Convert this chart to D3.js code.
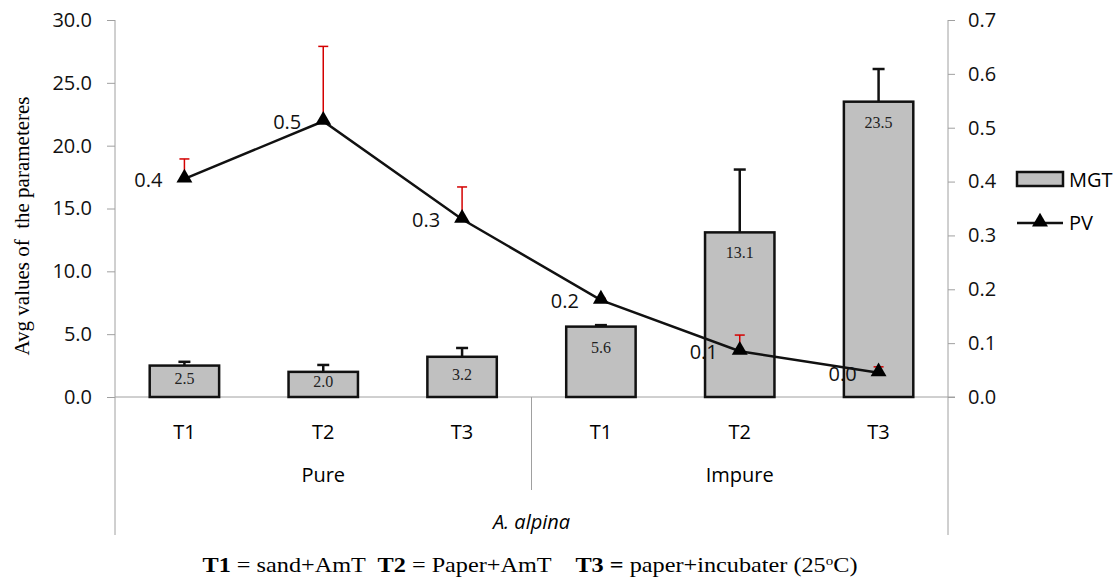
<!DOCTYPE html>
<html>
<head>
<meta charset="utf-8">
<script src="https://cdn.jsdelivr.net/npm/d3@7"></script>
<style>
  body { margin: 0; background: #fff; }
  svg { display: block; }
  .cap { white-space: pre; }
</style>
</head>
<body>
<svg width="1120" height="579"></svg>
<script>
// data
var treatments = ["T1", "T2", "T3", "T1", "T2", "T3"];
var groups = ["Pure", "Impure"];
var mgt = [2.5, 2.0, 3.2, 5.6, 13.1, 23.5];
var mgtErr = [0.3, 0.55, 0.7, 0.12, 5.0, 2.6];
var pv = [0.405, 0.512, 0.330, 0.180, 0.085, 0.045];
var pvErr = [0.037, 0.139, 0.06, 0.003, 0.03, 0.011];
var leftTicks = [0, 5, 10, 15, 20, 25, 30];
var rightTicks = [0, 0.1, 0.2, 0.3, 0.4, 0.5, 0.6, 0.7];

var svg = d3.select('svg');
var plotL = 115, plotR = 948, plotT = 20, base = 397;
var gray = '#a0a0a0';
var sans = "'Open Sans', sans-serif";
var serif = "'Liberation Serif', 'Times New Roman', serif";
var fs = 20;

var idx = d3.range(mgt.length);
var x = d3.scaleBand().domain(idx).range([plotL, plotR]).padding(0);
var yL = d3.scaleLinear().domain([0, 30]).range([base, plotT]);
var yR = d3.scaleLinear().domain([0, 0.7]).range([base, plotT]);

// left axis
var axL = svg.append('g')
    .attr('transform', 'translate(' + plotL + ',0)')
    .call(d3.axisLeft(yL).tickValues(leftTicks).tickFormat(d3.format('.1f')).tickSizeOuter(0).tickSize(8).tickPadding(15));
axL.select('.domain').remove();
axL.selectAll('line').attr('stroke', gray);
axL.selectAll('text').attr('font-family', sans).attr('font-size', fs).attr('fill', '#111');
svg.append('line').attr('x1', plotL).attr('x2', plotL).attr('y1', plotT).attr('y2', 535).attr('stroke', gray);

// right axis
var axR = svg.append('g')
    .attr('transform', 'translate(' + plotR + ',0)')
    .call(d3.axisRight(yR).tickValues(rightTicks).tickFormat(d3.format('.1f')).tickSizeOuter(0).tickSize(7).tickPadding(13));
axR.select('.domain').remove();
axR.selectAll('line').attr('stroke', gray);
axR.selectAll('text').attr('font-family', sans).attr('font-size', fs).attr('fill', '#111');
svg.append('line').attr('x1', plotR).attr('x2', plotR).attr('y1', plotT).attr('y2', 535).attr('stroke', gray);

// category axis
svg.append('line').attr('x1', plotL).attr('x2', plotR + 7).attr('y1', base).attr('y2', base).attr('stroke', gray);
svg.append('line').attr('x1', x(3)).attr('x2', x(3)).attr('y1', base).attr('y2', 490).attr('stroke', gray);

svg.selectAll('.tlab').data(treatments).enter().append('text')
    .attr('x', function(d, i) { return x(i) + x.bandwidth() / 2; })
    .attr('y', 439)
    .attr('text-anchor', 'middle')
    .attr('font-family', sans).attr('font-size', fs)
    .text(function(d) { return d; });

svg.selectAll('.glab').data(groups).enter().append('text')
    .attr('x', function(d, i) { return x(i * 3) + x.bandwidth() * 1.5; })
    .attr('y', 482)
    .attr('text-anchor', 'middle')
    .attr('font-family', sans).attr('font-size', fs)
    .text(function(d) { return d; });

svg.append('text')
    .attr('x', (plotL + plotR) / 2).attr('y', 529)
    .attr('text-anchor', 'middle')
    .attr('font-family', sans).attr('font-size', fs).attr('font-style', 'italic')
    .text('A. alpina');

// y title
svg.append('text')
    .attr('transform', 'translate(29,226) rotate(-90)')
    .attr('text-anchor', 'middle')
    .attr('font-family', serif).attr('font-size', 21)
    .style('white-space', 'pre')
    .text('Avg values of  the parameteres');

// bars
var bw = x.bandwidth() * 0.5;
function cx(i) { return x(i) + x.bandwidth() / 2; }

// MGT error bars (behind bars)
svg.selectAll('.merr').data(idx).enter().append('line')
    .attr('x1', cx).attr('x2', cx)
    .attr('y1', function(i) { return yL(mgt[i]); })
    .attr('y2', function(i) { return yL(mgt[i] + mgtErr[i]); })
    .attr('stroke', '#111').attr('stroke-width', 2.5);
svg.selectAll('.mcap').data(idx).enter().append('line')
    .attr('x1', function(i) { return cx(i) - 6; }).attr('x2', function(i) { return cx(i) + 6; })
    .attr('y1', function(i) { return yL(mgt[i] + mgtErr[i]); })
    .attr('y2', function(i) { return yL(mgt[i] + mgtErr[i]); })
    .attr('stroke', '#111').attr('stroke-width', 2.5);

svg.selectAll('.bar').data(idx).enter().append('rect')
    .attr('x', function(i) { return cx(i) - bw / 2; })
    .attr('y', function(i) { return yL(mgt[i]); })
    .attr('width', bw)
    .attr('height', function(i) { return base - yL(mgt[i]); })
    .attr('fill', '#c0c0c0')
    .attr('stroke', '#111').attr('stroke-width', 2.5);

svg.selectAll('.blab').data(idx).enter().append('text')
    .attr('x', cx)
    .attr('y', function(i) {
        var t = yL(mgt[i]);
        return Math.min(t + 21, (t + base) / 2 - 2) + 5;
    })
    .attr('text-anchor', 'middle')
    .attr('font-family', serif).attr('font-size', 16).attr('fill', '#222')
    .text(function(i) { return d3.format('.1f')(mgt[i]); });

// PV error bars (red)
svg.selectAll('.perr').data(idx).enter().append('line')
    .attr('x1', cx).attr('x2', cx)
    .attr('y1', function(i) { return yR(pv[i]); })
    .attr('y2', function(i) { return yR(pv[i] + pvErr[i]); })
    .attr('stroke', '#d40000').attr('stroke-width', 1.5);
svg.selectAll('.pcap').data(idx).enter().append('line')
    .attr('x1', function(i) { return cx(i) - 5; }).attr('x2', function(i) { return cx(i) + 5; })
    .attr('y1', function(i) { return yR(pv[i] + pvErr[i]); })
    .attr('y2', function(i) { return yR(pv[i] + pvErr[i]); })
    .attr('stroke', '#d40000').attr('stroke-width', 1.5);

// PV line
var line = d3.line().x(function(i) { return cx(i); }).y(function(i) { return yR(pv[i]); });
svg.append('path').datum(idx)
    .attr('d', line)
    .attr('fill', 'none').attr('stroke', '#111').attr('stroke-width', 2.5);

var tri = d3.symbol().type(d3.symbolTriangle).size(110);
svg.selectAll('.pt').data(idx).enter().append('path')
    .attr('d', tri)
    .attr('transform', function(i) { return 'translate(' + cx(i) + ',' + (yR(pv[i]) - 1) + ')'; })
    .attr('fill', '#000');

svg.selectAll('.plab').data(idx).enter().append('text')
    .attr('x', function(i) { return cx(i) - 22; })
    .attr('y', function(i) { return yR(pv[i]) + 8; })
    .attr('text-anchor', 'end')
    .attr('font-family', sans).attr('font-size', fs).attr('fill', '#111')
    .text(function(i) { return d3.format('.1f')(pv[i]); });

// legend
var lg = svg.append('g').attr('transform', 'translate(1017,0)');
lg.append('rect').attr('x', 0).attr('y', 172).attr('width', 46).attr('height', 14)
    .attr('fill', '#c0c0c0').attr('stroke', '#111').attr('stroke-width', 2.5);
lg.append('text').attr('x', 52).attr('y', 187).attr('font-family', sans).attr('font-size', fs).text('MGT');
lg.append('line').attr('x1', 0).attr('x2', 46).attr('y1', 223).attr('y2', 223)
    .attr('stroke', '#111').attr('stroke-width', 2.5);
lg.append('path').attr('d', tri).attr('transform', 'translate(23,222)').attr('fill', '#000');
lg.append('text').attr('x', 52).attr('y', 230).attr('font-family', sans).attr('font-size', fs).text('PV');

// caption
var cap = svg.append('text')
    .attr('class', 'cap')
    .attr('x', 530).attr('y', 572)
    .attr('text-anchor', 'middle')
    .attr('font-family', serif).attr('font-size', 21)
    .attr('textLength', 655).attr('lengthAdjust', 'spacingAndGlyphs');
cap.append('tspan').attr('font-weight', 'bold').text('T1');
cap.append('tspan').text(' = sand+AmT  ');
cap.append('tspan').attr('font-weight', 'bold').text('T2');
cap.append('tspan').text(' = Paper+AmT    ');
cap.append('tspan').attr('font-weight', 'bold').text('T3 =');
cap.append('tspan').text(' paper+incubater (25');
cap.append('tspan').attr('font-size', 13).attr('dy', -7).text('o');
cap.append('tspan').attr('dy', 7).text('C)');
</script>
</body>
</html>
